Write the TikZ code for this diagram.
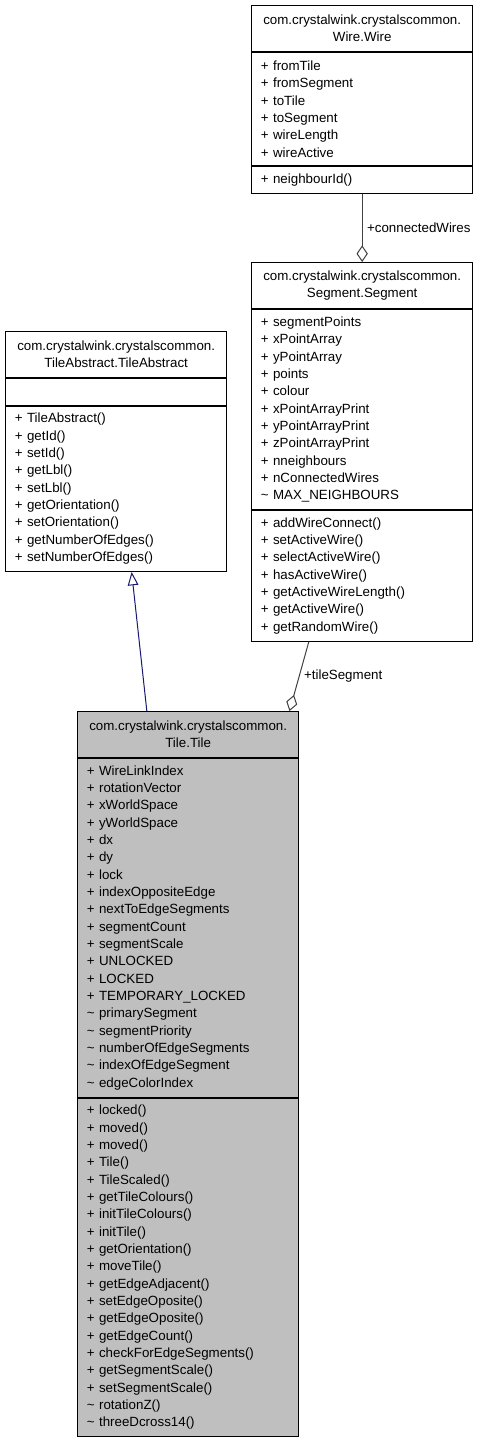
\documentclass[tikz,border=0pt]{standalone}
\usepackage{fontspec}
\setmainfont{Liberation Sans}
\usetikzlibrary{positioning,arrows.meta}
\definecolor{tilegray}{RGB}{191,191,191}
\definecolor{inherit}{RGB}{25,25,112}
\definecolor{aggr}{RGB}{64,64,64}
\tikzset{
  cbox/.style   = {draw=black, fill=white, line width=0.75pt, minimum width=166pt,
                   text width=152pt, inner xsep=7pt, inner ysep=0pt,
                   font=\fontsize{10}{13}\selectfont},
  ctitle/.style = {cbox, align=center, minimum height=34.5pt},
  % member parts: 13pt per row plus 7pt padding
  cpart/.style  = {cbox, align=left, minimum height={13pt*#1+7pt}},
  ctile/.style  = {fill=tilegray},
  agg/.style    = {draw=aggr, line width=0.75pt,
                   -{Diamond[open, length=12.5pt, width=8.5pt]}},
  gen/.style    = {draw=inherit, line width=0.75pt,
                   -{Triangle[open, length=10pt, width=8pt]}},
  lbl/.style    = {font=\fontsize{10}{13}\selectfont, text=black},
}

\begin{document}
\begin{tikzpicture}[x=0.75pt, y=-0.75pt]
  \useasboundingbox (0,0) rectangle (477,1443);

  % Wire
  \node[ctitle, anchor=north west] (wireT) at (251,5)
    {com.crystalwink.crystalscommon.\\Wire.Wire};
  \node[cpart=6, below=0pt of wireT] (wireA)
    {+ fromTile\\+ fromSegment\\+ toTile\\+ toSegment\\+ wireLength\\+ wireActive};
  \node[cpart=1, below=0pt of wireA] (wireM) {+ neighbourId()};

  % Segment
  \node[ctitle, anchor=north west] (segT) at (251,262)
    {com.crystalwink.crystalscommon.\\Segment.Segment};
  \node[cpart=11, below=0pt of segT] (segA)
    {+ segmentPoints\\+ xPointArray\\+ yPointArray\\+ points\\+ colour\\
     + xPointArrayPrint\\+ yPointArrayPrint\\+ zPointArrayPrint\\+ nneighbours\\
     + nConnectedWires\\\textasciitilde{} MAX\_NEIGHBOURS};
  \node[cpart=7, below=0pt of segA] (segM)
    {+ addWireConnect()\\+ setActiveWire()\\+ selectActiveWire()\\+ hasActiveWire()\\
     + getActiveWireLength()\\+ getActiveWire()\\+ getRandomWire()};

  % TileAbstract
  \node[ctitle, anchor=north west] (absT) at (5,331)
    {com.crystalwink.crystalscommon.\\TileAbstract.TileAbstract};
  \node[cpart=1, below=0pt of absT] (absA) {};
  \node[cpart=9, below=0pt of absA] (absM)
    {+ TileAbstract()\\+ getId()\\+ setId()\\+ getLbl()\\+ setLbl()\\
     + getOrientation()\\+ setOrientation()\\+ getNumberOfEdges()\\+ setNumberOfEdges()};

  % Tile
  \node[ctitle, ctile, anchor=north west] (tileT) at (77,711)
    {com.crystalwink.crystalscommon.\\Tile.Tile};
  \node[cpart=19, ctile, below=0pt of tileT] (tileA)
    {+ WireLinkIndex\\+ rotationVector\\+ xWorldSpace\\+ yWorldSpace\\+ dx\\+ dy\\
     + lock\\+ indexOppositeEdge\\+ nextToEdgeSegments\\+ segmentCount\\
     + segmentScale\\+ UNLOCKED\\+ LOCKED\\+ TEMPORARY\_LOCKED\\
     \textasciitilde{} primarySegment\\\textasciitilde{} segmentPriority\\
     \textasciitilde{} numberOfEdgeSegments\\\textasciitilde{} indexOfEdgeSegment\\
     \textasciitilde{} edgeColorIndex};
  \node[cpart=19, ctile, below=0pt of tileA] (tileM)
    {+ locked()\\+ moved()\\+ moved()\\+ Tile()\\+ TileScaled()\\+ getTileColours()\\
     + initTileColours()\\+ initTile()\\+ getOrientation()\\+ moveTile()\\
     + getEdgeAdjacent()\\+ setEdgeOposite()\\+ getEdgeOposite()\\+ getEdgeCount()\\
     + checkForEdgeSegments()\\+ getSegmentScale()\\+ setSegmentScale()\\
     \textasciitilde{} rotationZ()\\\textasciitilde{} threeDcross14()};

  \coordinate (segOut)  at ([xshift=-40pt]segM.south);
  \coordinate (tileIn)  at ([xshift=76pt]tileT.north);
  \coordinate (absIn)   at ([xshift=11.6pt]absM.south);
  \coordinate (tileOut) at ([xshift=-31pt]tileT.north);

  \draw[agg] (wireM.south) -- node[lbl, right] (lblWires) {+connectedWires} (segT.north);
  \draw[agg] (segOut) -- node[lbl, right] (lblTile) {+tileSegment} (tileIn);
  \draw[gen] (tileOut) -- (absIn);
\end{tikzpicture}
\end{document}
